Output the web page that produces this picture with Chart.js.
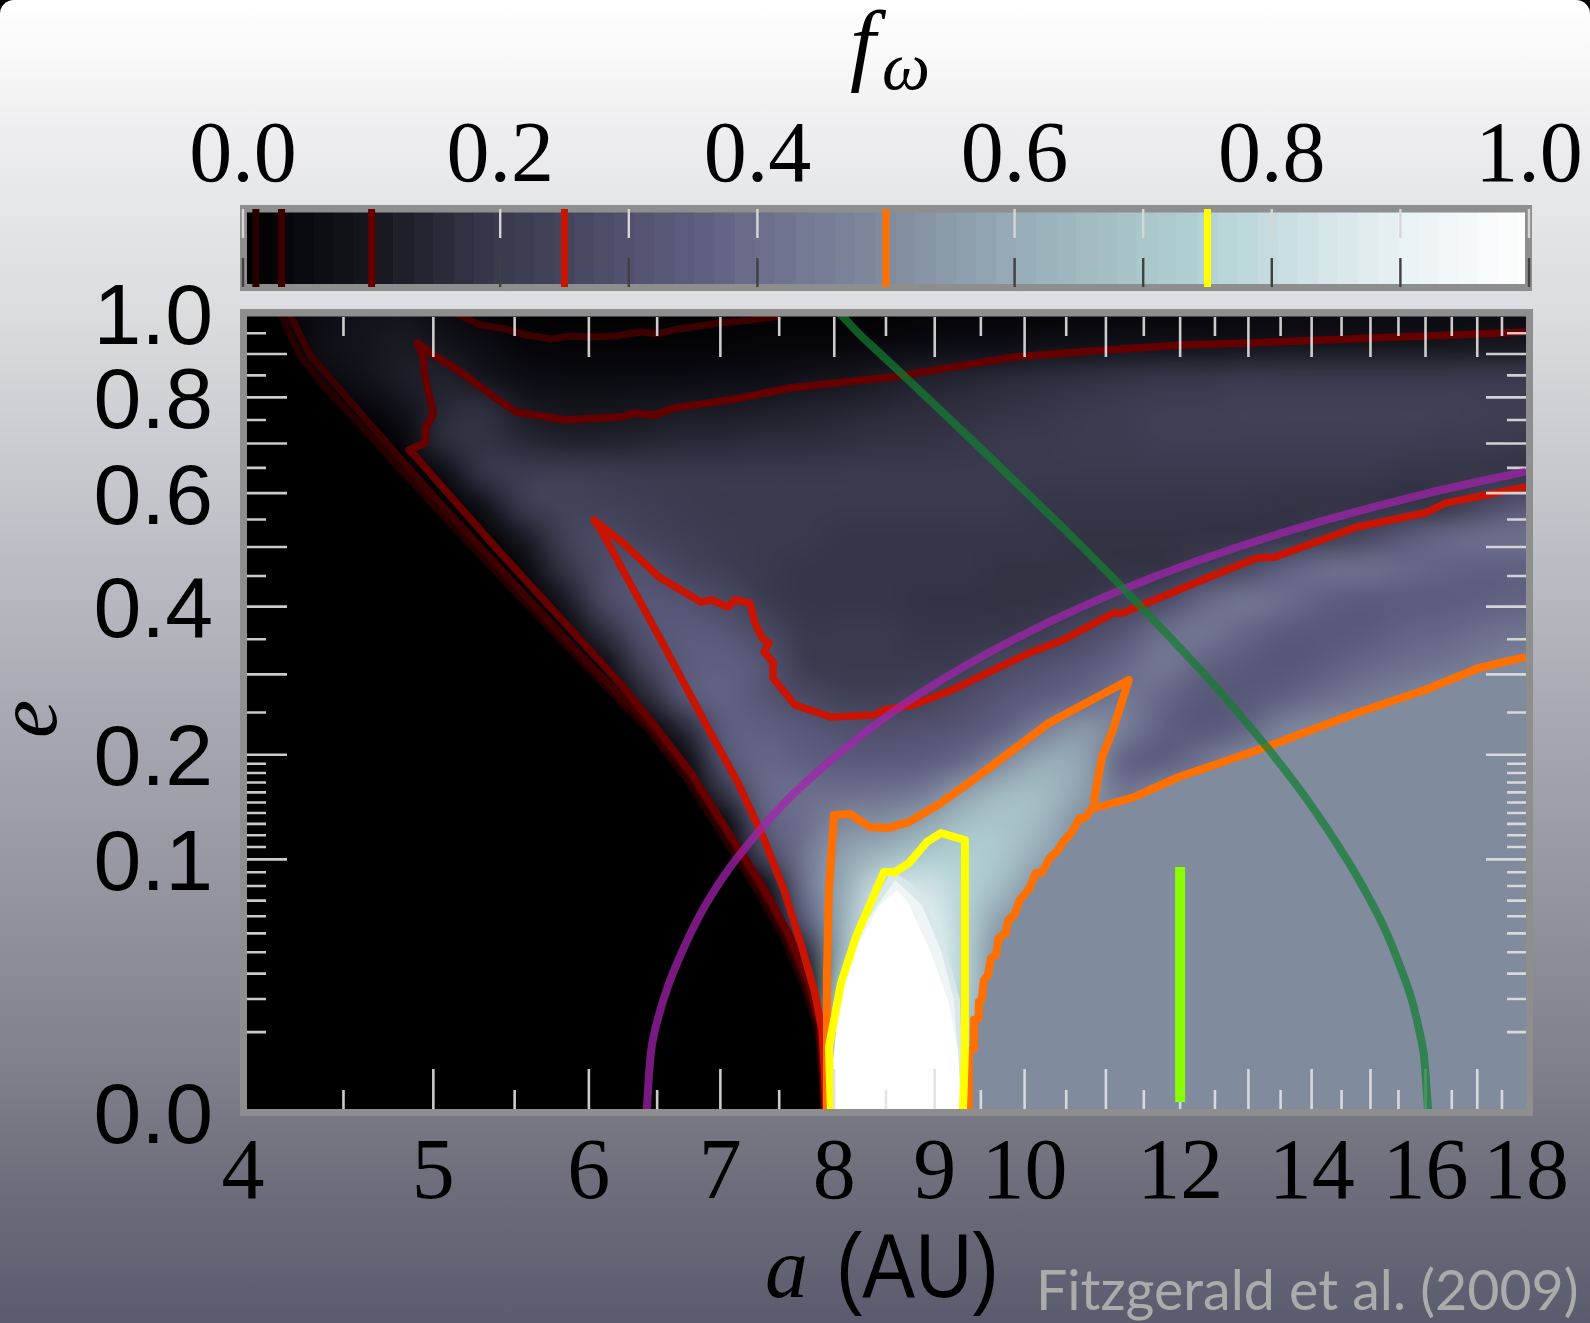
<!DOCTYPE html>
<html>
<head>
<meta charset="utf-8">
<title>f_omega map</title>
<script src="https://cdn.jsdelivr.net/npm/chart.js@4"></script>
<style>
  html, body { margin: 0; padding: 0; background: #000; }
  #page {
    position: relative; width: 1590px; height: 1323px; overflow: hidden;
    border-radius: 14px 14px 0 0;
    background: linear-gradient(to bottom, #ffffff 0px, #f8f8f8 60px, #eeeef0 130px, #e5e6e8 205px,
      #dcdde0 305px, #c4c5cb 500px, #a9aab3 700px, #93949e 900px, #7d7e89 1080px, #6b6c79 1200px, #5a5b6e 1323px);
  }
  canvas { position: absolute; left: 0; top: 0; }
</style>
</head>
<body>
<div id="page">
  <canvas id="colorbar" width="1590" height="305"></canvas>
  <canvas id="map" width="1590" height="1323"></canvas>
</div>
<script>
// axis labels and tick marks
const xLabels = [4, 5, 6, 7, 8, 9, 10, 12, 14, 16, 18];
const yLabels = [0, 0.1, 0.2, 0.4, 0.6, 0.8, 1];
const cbarLabels = [0, 0.2, 0.4, 0.6, 0.8, 1];
const cbarTicks = [0, 0.1, 0.2, 0.3, 0.4, 0.5, 0.6, 0.7, 0.8, 0.9, 1];
const xLongTicks = [5, 6, 7, 8, 9, 10, 11, 12, 13, 14, 15, 16, 17];
const xShortTicks = [4.5, 5.5, 6.5, 7.5, 8.5, 9.5, 10.5, 11.5, 12.5, 13.5, 14.5, 15.5, 16.5, 17.5];
const yLongTicks = [0.1, 0.2, 0.3, 0.4, 0.5, 0.6, 0.7, 0.8, 0.9];
const yShortTicks = [0.01, 0.02, 0.03, 0.04, 0.05, 0.06, 0.07, 0.08, 0.09, 0.11, 0.12, 0.13, 0.14, 0.15, 0.16, 0.17, 0.18, 0.19,
  0.25, 0.35, 0.45, 0.55, 0.65, 0.75, 0.85, 0.95];

// colour bar levels and contour levels
const cbarLevels = [0, .016, .031, .047, .063, .078, .094, .109, .125, .141, .156, .172, .188, .203, .219, .234,
  .25, .266, .281, .297, .313, .328, .344, .359, .375, .391, .406, .422, .438, .453, .469, .484,
  .5, .516, .531, .547, .563, .578, .594, .609, .625, .641, .656, .672, .688, .703, .719, .734,
  .75, .766, .781, .797, .813, .828, .844, .859, .875, .891, .906, .922, .938, .953, .969, .984, 1];
const contourLevels = [0.01, 0.03, 0.1, 0.25, 0.5, 0.75];

// f (percent): rows are eGrid, columns aGrid
const aGrid = [4, 4.192, 4.393, 4.604, 4.825, 5.057, 5.3, 5.554, 5.821, 6.1, 6.393, 6.7, 7.022, 7.359, 7.712, 8.082, 8.47,
  8.877, 9.303, 9.75, 10.22, 10.71, 11.22, 11.76, 12.33, 12.92, 13.54, 14.19, 14.87, 15.58, 16.33, 17.12, 17.94];
const eGrid = [1, .9215, .846, .774, .705, .64, .577, .518, .462, .409, .359, .313, .27, .23, .193, .159, .129, .102, .078,
  .0571, .0396, .0253, .0141, .0062, .0015, 0];
const fGrid = [
  [0,2,6,8,9, 5,2,1,1,1, 1,1,1,1,1, 1,1,2,2,2, 2,3,3,3,3, 4,4,4,4,5, 5,5,5],
  [0,0,7,9,11, 9,6,3,2,2, 2,2,2,3,3, 3,4,5,6,6, 7,7,8,8,8, 8,9,9,9,9, 9,10,10],
  [0,0,5,8,12, 13,9,6,5,5, 5,5,6,6,8, 9,11,13,14,15, 16,17,18,19,19, 20,20,20,20,20, 20,20,20],
  [0,0,0,3,8, 15,17,11,9,9, 10,11,11,12,13, 14,15,16,17,18, 19,20,21,22,22, 23,23,23,23,23, 23,22,22],
  [0,0,0,0,3, 16,18,15,13,13, 14,15,15,16,16, 17,18,18,19,20, 20,21,21,22,22, 22,22,22,22,22, 21,21,20],
  [0,0,0,0,0, 6,19,21,22,21, 20,20,20,20,20, 20,20,20,20,20, 20,20,20,20,20, 20,20,20,20,19, 19,19,18],
  [0,0,0,0,0, 0,8,21,24,23, 22,21,20,20,20, 20,20,20,20,20, 19,19,19,19,19, 19,18,18,18,18, 19,26,32],
  [0,0,0,0,0, 0,1,11,23,27, 24,22,21,20,20, 19,19,19,19,19, 19,18,18,18,18, 18,19,22,26,33, 38,40,41],
  [0,0,0,0,0, 0,0,3,18,28, 30,25,22,20,19, 19,19,19,19,18, 18,18,18,18,22, 27,36,40,41,39, 37,36,36],
  [0,0,0,0,0, 0,0,0,10,27, 32,31,27,21,19, 19,19,18,18,18, 18,19,24,28,38, 43,40,36,34,34, 35,36,37],
  [0,0,0,0,0, 0,0,0,2,16, 30,34,33,27,20, 20,20,19,19,19, 21,27,32,40,43, 38,34,33,34,37, 38,40,42],
  [0,0,0,0,0, 0,0,0,0,5, 24,34,36,32,21, 20,20,20,21,27, 30,33,38,44,37, 34,32,35,38,40, 42,45,48],
  [0,0,0,0,0, 0,0,0,0,0, 14,32,37,32,27, 23,23,24,28,32, 35,38,44,38,33, 33,36,40,44,47, 50,50,50],
  [0,0,0,0,0, 0,0,0,0,0, 0,15,35,36,33, 30,29,30,32,36, 46,54,46,36,33, 37,47,50,50,50, 50,50,50],
  [0,0,0,0,0, 0,0,0,0,0, 0,3,30,38,36, 34,34,35,38,50, 60,58,37,35,42, 50,50,50,50,50, 50,50,50],
  [0,0,0,0,0, 0,0,0,0,0, 0,0,18,38,40, 40,41,44,56,65, 66,56,42,50,50, 50,50,50,50,50, 50,50,50],
  [0,0,0,0,0, 0,0,0,0,0, 0,0,2,34,40, 50,52,58,68,70, 64,50,50,50,50, 50,50,50,50,50, 50,50,50],
  [0,0,0,0,0, 0,0,0,0,0, 0,0,0,24,42, 57,65,72,74,70, 58,50,50,50,50, 50,50,50,50,50, 50,50,50],
  [0,0,0,0,0, 0,0,0,0,0, 0,0,0,4,40, 60,82,84,76,65, 50,50,50,50,50, 50,50,50,50,50, 50,50,50],
  [0,0,0,0,0, 0,0,0,0,0, 0,0,0,0,32, 62,90,90,76,55, 50,50,50,50,50, 50,50,50,50,50, 50,50,50],
  [0,0,0,0,0, 0,0,0,0,0, 0,0,0,0,14, 64,95,95,76,50, 50,50,50,50,50, 50,50,50,50,50, 50,50,50],
  [0,0,0,0,0, 0,0,0,0,0, 0,0,0,0,0, 76,100,100,76,50, 50,50,50,50,50, 50,50,50,50,50, 50,50,50],
  [0,0,0,0,0, 0,0,0,0,0, 0,0,0,0,0, 90,100,100,72,50, 50,50,50,50,50, 50,50,50,50,50, 50,50,50],
  [0,0,0,0,0, 0,0,0,0,0, 0,0,0,0,0, 100,100,100,60,50, 50,50,50,50,50, 50,50,50,50,50, 50,50,50],
  [0,0,0,0,0, 0,0,0,0,0, 0,0,0,0,0, 100,100,100,55,50, 50,50,50,50,50, 50,50,50,50,50, 50,50,50],
  [0,0,0,0,0, 0,0,0,0,0, 0,0,0,0,0, 100,100,100,55,50, 50,50,50,50,50, 50,50,50,50,50, 50,50,50]
];

// flat regions with hard edges
const blackA = [4, 4.17, 4.192, 4.251, 4.281, 4.373, 4.599, 4.957, 5.509, 5.987, 6.446, 6.724, 7.013, 7.316, 7.542, 7.73, 7.849, 7.886, 7.905, 4];
const blackE = [1, 1, .9875, .9215, .893, .839, .735, .592, .422, .31, .227, .175, .121, .0758, .0474, .0241, .0105, .0021, 0, 0];
const core85A = [8.56, 8.845, 9.108, 9.27, 9.313, 7.969, 8.036, 8.197];
const core85E = [.0917, .0772, .0437, .0196, 0, 0, .0196, .0491];
const core93A = [8.59, 8.866, 9.065, 9.206, 9.293, 7.969, 8.036, 8.197];
const core93E = [.0843, .0671, .0411, .0196, 0, 0, .0196, .0474];
const core100A = [8.61, 8.44, 8.197, 8.055, 7.989, 7.98, 9.28, 9.25, 9.14, 8.95, 8.72];
const core100E = [.0772, .0671, .0411, .0196, .0042, 0, 0, .006, .0196, .0411, .0691];

// contours
const c01A = [4.17, 4.192, 4.251, 4.281, 4.373, 4.599, 4.957, 5.509, 5.987, 6.446, 6.724, 7.013, 7.316, 7.542, 7.73, 7.849, 7.886, 7.905];
const c01E = [1, .9875, .9215, .893, .839, .735, .592, .422, .31, .227, .175, .121, .0758, .0474, .0241, .0105, .0021, 0];
const c03A = [4.222, 4.327, 4.43, 4.631, 4.98, 5.534, 6.008, 6.408, 6.755, 7.047, 7.34, 7.569, 7.749, 7.859, 7.894, 7.913];
const c03E = [1, .8976, .844, .746, .602, .427, .313, .2407, .178, .1237, .0779, .0491, .0253, .01105, .0021, 0];
const c03TopA = [5.128, 5.281, 5.42, 5.574, 5.74, 5.86, 5.987, 6.187, 6.379, 6.5, 6.622, 6.836, 6.988, 7.247, 7.507];
const c03TopE = [1, .97, .962, .9457, .936, .943, .9408, .9433, .953, .948, .9579, .9677, .9752, .9825, .9925];
const c10A = [18, 17.03, 15.04, 13.02, 12.03, 11.01, 9.88, 8.56, 7.597, 7.08, 6.622, 6.484, 6.323, 6.245, 5.841, 5.509, 5.369, 5.171, 5.001, 4.908,
  4.94, 4.952, 4.969, 5, 4.957, 4.952, 4.859, 4.88, 5.393, 5.987, 6.224, 6.49, 6.764, 7.054, 7.359, 7.579, 7.767, 7.867, 7.9, 7.91];
const c10E = [.953, .948, .9384, .9263, .9215, .9095, .8929, .846, .821, .794, .776, .761, .765, .757, .75, .7675, .8008, .8554, .8976, .9263,
  .893, .846, .8165, .765, .7329, .701, .6865, .68, .4947, .3387, .288, .2322, .18, .1246, .0793, .0502, .0261, .0124, .0024, 0];
const c25A = [7.925, 7.91, 7.886, 7.82, 7.702, 7.542, 7.359, 7.147, 6.907, 6.529, 6.086, 6.036, 6.245, 6.514, 6.842, 6.931, 7.062, 7.12, 7.247, 7.29, 7.35, 7.411, 7.368, 7.446, 7.446,
  7.64, 7.969, 8.381, 8.48, 8.774, 9.184, 9.714, 10.05, 10.46, 11.1, 11.22, 12.49, 13.13, 13.41, 14.76, 15.99, 16.39, 18];
const c25E = [0, .0024, .0105, .0222, .0426, .0772, .1185, .1695, .2286, .349, .5306, .549, .5071, .4483, .4074, .4106, .3995, .4106, .4058, .3746, .3519, .3445, .3315, .3172, .295,
  .2595, .2444, .2469, .2531, .2595, .279, .3102, .33, .349, .39, .39, .4517, .4808, .4825, .5361, .562, .581, .6119];
const c50UpperA = [7.932, 7.932, 7.95, 7.997, 8.149, 8.344, 8.52, 8.731, 9.065, 9.457, 10.29, 11.3, 11.09, 10.95, 10.84];
const c50UpperE = [0, .0303, .0772, .1382, .1391, .1272, .1263, .1317, .1496, .1758, .237, .2923, .2286, .1974, .1496];
const c50LowerA = [18, 17.03, 15.99, 14.76, 13.99, 13.24, 11.98, 11.37, 10.91, 10.84, 10.73, 10.67, 10.57, 10.46, 10.4, 10.3, 10.2, 10.13, 10.06, 9.944,
  9.88, 9.81, 9.783, 9.7, 9.67, 9.612, 9.58, 9.533, 9.51, 9.477, 9.477, 9.425, 9.425, 9.367, 9.367];
const c50LowerE = [.3243, .3088, .279, .2494, .2286, .2076, .1758, .1554, .1457, .1457, .1354, .1354, .1228, .1142, .1075, .1011, .0895, .0895, .0786, .0704,
  .0608, .0577, .0502, .0474, .0386, .0371, .0294, .0273, .0196, .019, .0138, .0133, .0064, .0055, 0];
const c75A = [7.969, 7.95, 8.064, 8.206, 8.48, 8.59, 8.731, 8.918, 9.065, 9.324, 9.324, 9.302];
const c75E = [0, .0066, .0261, .048, .0902, .0902, .0971, .1142, .1219, .1159, .0055, 0];

// the two arcs and the marker
const purpleA = [6.42, 6.45, 6.48, 6.55, 6.62, 6.76, 6.9, 7.13, 7.55, 8.03, 8.56, 9.17, 9.88, 10.7, 11.67, 12.84, 14.27, 16.05, 18];
const purpleE = [0, .005, .01, .02, .03, .05, .07, .1, .15, .2, .25, .3, .35, .4, .45, .5, .55, .6, .643];
const greenA = [8.05, 8.23, 8.447, 8.676, 8.917, 9.44, 10.03, 10.7, 11.46, 12.35, 12.84, 13.38, 13.96, 14.59, 15, 15.29, 15.58, 15.74, 15.89, 15.97, 16.05];
const greenE = [1, .95, .9, .85, .8, .7, .6, .5, .4, .3, .25, .2, .15, .1, .07, .05, .03, .02, .01, .005, 0];
const limeA = [12, 12];
const limeE = [.094, .00016];

const mapStops = [
  [0, 0, 0, 0], [.05, 10, 10, 17], [.1, 22, 22, 30], [.15, 40, 40, 54], [.2, 58, 58, 78], [.25, 68, 68, 92],
  [.3, 82, 82, 112], [.35, 92, 92, 125], [.4, 108, 110, 140], [.45, 118, 124, 150], [.5, 129, 139, 158],
  [.6, 150, 172, 182], [.7, 170, 198, 202], [.75, 178, 210, 212], [.8, 198, 220, 224], [.9, 232, 241, 243], [1, 255, 255, 255]
];
const contourColors = ['#260000', '#3c0000', '#660000', '#c81400', '#ff7000', '#ffff00'];
const FRAME = '#8e8e8e';
const SERIF = '"Liberation Serif", serif';
const SANS = '"Liberation Sans", sans-serif';

function mapRgb(f) {
  let i = 0;
  while (i < mapStops.length - 2 && f > mapStops[i + 1][0]) i++;
  const p = mapStops[i], q = mapStops[i + 1];
  const t = Math.min(1, Math.max(0, (f - p[0]) / (q[0] - p[0])));
  return [1, 2, 3].map(k => Math.round(p[k] + (q[k] - p[k]) * t));
}
const mapColor = f => 'rgb(' + mapRgb(f).join(',') + ')';
const pairs = (as, es) => as.map((a, i) => ({x: a, y: es[i]}));

// e runs on a square-root axis
class SqrtScale extends Chart.LinearScale {
  static id = 'sqrt';
  static defaults = Chart.LinearScale.defaults;
  buildTicks() {
    return yLabels.map(v => ({value: v}));
  }
  getPixelForValue(v) {
    return this.getPixelForDecimal(Math.sqrt(Math.max(v, 0)) / Math.sqrt(this.max));
  }
  getValueForPixel(p) {
    const d = this.getDecimalForPixel(p) * Math.sqrt(this.max);
    return d * d;
  }
}
Chart.register(SqrtScale);

function drawFrame(ctx, x0, y0, x1, y1) {
  ctx.save();
  ctx.fillStyle = FRAME;
  ctx.fillRect(x0, y0, x1 - x0, 7.5);
  ctx.fillRect(x0, y1 - 7, x1 - x0, 7);
  ctx.fillRect(x0, y0, 7, y1 - y0);
  ctx.fillRect(x1 - 7, y0, 7, y1 - y0);
  ctx.restore();
}

// colour bar
const barsData = cbarLevels.map(v => ({x: v, y: 1}));
const tickUp = [], tickDown = [];
cbarTicks.forEach(v => {
  tickUp.push({x: v, y: 1.04}, {x: v, y: 0.64}, {x: v, y: null});
  tickDown.push({x: v, y: 0.36}, {x: v, y: -0.04}, {x: v, y: null});
});
const cbarLines = contourLevels.map((v, i) => ({
  data: [{x: v, y: 1.04}, {x: v, y: -0.04}], borderColor: contourColors[i], borderWidth: 7
})).concat([
  {data: tickUp, borderColor: '#d6d6d6', borderWidth: 2.4},
  {data: tickDown, borderColor: '#404040', borderWidth: 2.4}
]);

new Chart(document.getElementById('colorbar'), {
  type: 'bar',
  data: {
    datasets: [{
      data: barsData, order: 5,
      backgroundColor: cbarLevels.map(mapColor),
      barPercentage: 1, categoryPercentage: 1, borderWidth: 0, inflateAmount: 1
    }].concat(cbarLines.map(d => Object.assign({
      type: 'line', pointRadius: 0, fill: false, clip: false, order: 1, spanGaps: false, borderCapStyle: 'butt'
    }, d)))
  },
  options: {
    responsive: false, animation: false, events: [],
    layout: {padding: {left: 243, right: 61, top: 0, bottom: 21}},
    plugins: {legend: {display: false}, tooltip: {enabled: false}},
    scales: {
      x: {
        type: 'linear', position: 'top', min: 0, max: 1, offset: false,
        afterBuildTicks: s => { s.ticks = cbarLabels.map(v => ({value: v})); },
        afterFit: s => { s.height = 212; },
        grid: {display: false, drawTicks: false}, border: {display: false},
        ticks: {
          autoSkip: false, maxRotation: 0, padding: 2, color: '#000',
          font: {family: SERIF, size: 86}, callback: v => v.toFixed(1)
        }
      },
      y: {display: false, min: 0, max: 1}
    }
  },
  plugins: [{
    id: 'cbarDecor',
    afterDatasetDraw(chart, args) {
      if (args.index === 0) drawFrame(chart.ctx, 240, 205, 1532, 291);
    },
    afterDraw(chart) {
      const ctx = chart.ctx;
      ctx.save();
      ctx.fillStyle = '#000';
      ctx.textBaseline = 'alphabetic';
      ctx.font = 'italic 92px ' + SERIF;
      ctx.fillText('f', 850, 74);
      ctx.font = 'italic 68px ' + SERIF;
      ctx.fillText('ω', 882, 89);
      ctx.restore();
    }
  }]
});

// main map
const polygons = [
  {data: pairs(blackA, blackE), backgroundColor: '#000'},
  {data: pairs(c50LowerA.concat([18]), c50LowerE.concat([0])), backgroundColor: mapColor(0.5)},
  {data: pairs(core85A, core85E), backgroundColor: mapColor(0.85)},
  {data: pairs(core93A, core93E), backgroundColor: mapColor(0.93)},
  {data: pairs(core100A, core100E), backgroundColor: '#fff'}
].map(d => Object.assign({fill: 'shape', showLine: true, borderWidth: 0, pointRadius: 0}, d));

const contours = [
  {data: pairs(c01A, c01E), borderColor: contourColors[0], borderWidth: 7},
  {data: pairs(c03A, c03E), borderColor: contourColors[1], borderWidth: 7},
  {data: pairs(c03TopA, c03TopE), borderColor: contourColors[1], borderWidth: 7},
  {data: pairs(c10A, c10E), borderColor: contourColors[2], borderWidth: 7.5},
  {data: pairs(c25A, c25E), borderColor: contourColors[3], borderWidth: 7.5},
  {data: pairs(c50UpperA, c50UpperE), borderColor: contourColors[4], borderWidth: 8},
  {data: pairs(c50LowerA, c50LowerE), borderColor: contourColors[4], borderWidth: 8},
  {data: pairs(c75A, c75E), borderColor: contourColors[5], borderWidth: 8}
].map(d => Object.assign({showLine: true, fill: false, pointRadius: 0, borderJoinStyle: 'round'}, d));

const overlays = [
  {data: pairs(purpleA, purpleE), borderColor: 'rgba(165,35,175,0.72)', borderWidth: 8, tension: 0.3},
  {data: pairs(greenA, greenE), borderColor: 'rgba(20,125,50,0.72)', borderWidth: 8, tension: 0.3},
  {data: pairs(limeA, limeE), borderColor: '#88ff00', borderWidth: 10, borderCapStyle: 'butt'}
].map(d => Object.assign({showLine: true, fill: false, pointRadius: 0}, d));

const mapDatasets = polygons.concat(contours, overlays);
mapDatasets.forEach((d, i) => { d.order = mapDatasets.length - i; });
const lastContour = polygons.length + contours.length - 1;

function drawHeat(chart) {
  const {ctx, chartArea, scales: {x, y}} = chart;
  const cols = aGrid.length, rows = eGrid.length;
  const off = document.createElement('canvas');
  off.width = cols;
  off.height = rows;
  const octx = off.getContext('2d');
  const img = octx.createImageData(cols, rows);
  fGrid.forEach((row, j) => row.forEach((f, i) => {
    const c = mapRgb(f / 100), k = (j * cols + i) * 4;
    img.data[k] = c[0]; img.data[k + 1] = c[1]; img.data[k + 2] = c[2]; img.data[k + 3] = 255;
  }));
  octx.putImageData(img, 0, 0);
  const x0 = x.getPixelForValue(aGrid[0]), x1 = x.getPixelForValue(aGrid[cols - 1]);
  const y0 = y.getPixelForValue(eGrid[0]), y1 = y.getPixelForValue(eGrid[rows - 1]);
  const cw = (x1 - x0) / (cols - 1), ch = (y1 - y0) / (rows - 1);
  ctx.save();
  ctx.beginPath();
  ctx.rect(chartArea.left, chartArea.top, chartArea.width, chartArea.height);
  ctx.clip();
  ctx.imageSmoothingEnabled = true;
  ctx.imageSmoothingQuality = 'high';
  ctx.drawImage(off, x0 - cw / 2, y0 - ch / 2, cw * cols, ch * rows);
  ctx.restore();
}

function drawInnerTicks(chart) {
  const {ctx, scales: {x, y}} = chart;
  const top = 317, bottom = 1109, left = 247, right = 1526;
  ctx.save();
  ctx.strokeStyle = 'rgba(225,225,225,0.9)';
  ctx.lineWidth = 2.6;
  ctx.beginPath();
  const xMark = (v, len) => {
    const p = x.getPixelForValue(v);
    ctx.moveTo(p, top); ctx.lineTo(p, top + len);
    ctx.moveTo(p, bottom); ctx.lineTo(p, bottom - len);
  };
  const yMark = (v, len) => {
    const p = y.getPixelForValue(v);
    ctx.moveTo(left, p); ctx.lineTo(left + len, p);
    ctx.moveTo(right, p); ctx.lineTo(right - len, p);
  };
  xLongTicks.forEach(v => xMark(v, 40));
  xShortTicks.forEach(v => xMark(v, 19));
  yLongTicks.forEach(v => yMark(v, 40));
  yShortTicks.forEach(v => yMark(v, 19));
  ctx.stroke();
  ctx.restore();
}

new Chart(document.getElementById('map'), {
  type: 'scatter',
  data: {datasets: mapDatasets},
  options: {
    responsive: false, animation: false, events: [],
    layout: {padding: {left: 0, right: 64, top: 313, bottom: 0}},
    plugins: {legend: {display: false}, tooltip: {enabled: false}},
    scales: {
      x: {
        type: 'logarithmic', min: 4, max: 18,
        afterBuildTicks: s => { s.ticks = xLabels.map(v => ({value: v})); },
        afterFit: s => { s.height = 211; },
        grid: {display: false, drawTicks: false}, border: {display: false},
        ticks: {
          autoSkip: false, maxRotation: 0, padding: 12, color: '#000',
          font: {family: SERIF, size: 86}, callback: v => String(v)
        }
      },
      y: {
        type: 'sqrt', min: 0, max: 1,
        afterFit: s => { s.width = 243; },
        grid: {display: false, drawTicks: false}, border: {display: false},
        ticks: {
          autoSkip: false, padding: 30, labelOffset: 7, color: '#000',
          font: {family: SANS, size: 86}, callback: v => v.toFixed(1)
        }
      }
    }
  },
  plugins: [{
    id: 'mapDecor',
    beforeDatasetsDraw: drawHeat,
    afterDatasetDraw(chart, args) {
      if (args.index === lastContour) drawInnerTicks(chart);
    },
    afterDatasetsDraw(chart) {
      drawFrame(chart.ctx, 240, 309, 1533, 1116);
    },
    afterDraw(chart) {
      const ctx = chart.ctx;
      ctx.save();
      ctx.fillStyle = '#000';
      ctx.textBaseline = 'alphabetic';
      ctx.font = 'italic 86px ' + SERIF;
      ctx.fillText('a', 765, 1297);
      ctx.save();
      ctx.translate(836, 1297);
      ctx.scale(0.88, 1);
      ctx.font = '90px ' + SANS;
      ctx.fillText('(AU)', 0, 0);
      ctx.restore();
      ctx.save();
      ctx.translate(56, 738);
      ctx.rotate(-Math.PI / 2);
      ctx.font = 'italic 86px ' + SERIF;
      ctx.fillText('e', 0, 0);
      ctx.restore();
      ctx.fillStyle = '#ababab';
      ctx.font = '55.5px Lato';
      ctx.fillText('Fitzgerald et al. (2009)', 1036, 1310);
      ctx.restore();
    }
  }]
});
</script>
</body>
</html>
